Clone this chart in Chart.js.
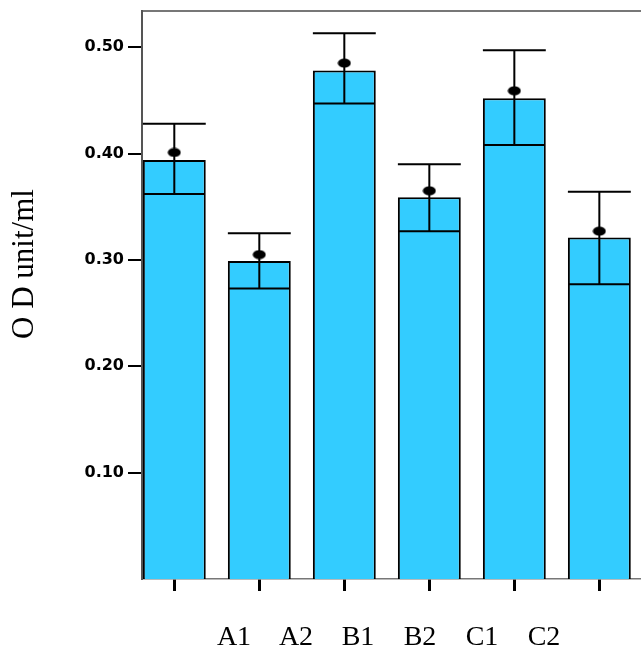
<!DOCTYPE html>
<html>
<head>
<meta charset="utf-8">
<script src="https://cdn.jsdelivr.net/npm/chart.js@4.4.1/dist/chart.umd.min.js"></script>
<style>
    html, body { margin: 0; padding: 0; background: #fff; }
    #wrap { width: 641px; height: 654px; }
</style>
</head>
<body>
<div id="wrap"><canvas id="chart" width="641" height="654"></canvas></div>
<script>
/* ------------------------------- Data -------------------------------*/

const GROUPS = ["A1", "A2", "B1", "B2", "C1", "C2"];
const BAR_VALUES = [0.394, 0.299, 0.478, 0.359, 0.452, 0.321];     // верх стовпця
const ERR_LOW = [0.362, 0.273, 0.447, 0.327, 0.408, 0.277];        // нижня межа похибки (лінія в стовпці)
const ERR_HIGH = [0.428, 0.325, 0.513, 0.390, 0.497, 0.364];       // верхня межа похибки
const MEANS = [0.401, 0.305, 0.485, 0.365, 0.459, 0.327];          // чорна точка
const Y_TICKS = [0.1, 0.2, 0.3, 0.4, 0.5];
const Y_TITLE = "O D unit/ml";

/* ------------------------------- Helpers -------------------------------*/

function makeDot() {                                    // чорна "клякса" над стовпцем
    var c = document.createElement("canvas");
    c.width = 14;
    c.height = 10;
    var g = c.getContext("2d");
    g.fillStyle = "#000";
    g.beginPath();
    g.ellipse(7, 5, 6.5, 4.5, 0, 0, Math.PI * 2);
    g.fill();
    return c;
}

function fixedTicks(values) {
    return function (scale) {
        scale.ticks = values.map(v => ({ value: v }));
    };
}

function noPad(width, height) {                        // прибрати авто-відступи осі
    return function (scale) {
        scale.paddingTop = 0;
        scale.paddingBottom = 0;
        scale.paddingLeft = 0;
        scale.paddingRight = 0;
        if (width != null) scale.width = width;
        if (height != null) scale.height = height;
    };
}

const errorBars = {
    id: "errorBars",
    afterDatasetsDraw(chart) {
        const ctx = chart.ctx;
        const y = chart.scales.y;
        const bars = chart.getDatasetMeta(0).data;

        ctx.save();
        ctx.strokeStyle = "#000";
        ctx.lineWidth = 2;
        bars.forEach(function (bar, i) {
            var half = bar.width / 2;
            var yLo = y.getPixelForValue(ERR_LOW[i]);
            var yHi = y.getPixelForValue(ERR_HIGH[i]);
            ctx.beginPath();
            ctx.moveTo(bar.x, yLo);
            ctx.lineTo(bar.x, yHi);
            ctx.moveTo(bar.x - half, yHi);
            ctx.lineTo(bar.x + half, yHi);
            ctx.moveTo(bar.x - half + 1, yLo);
            ctx.lineTo(bar.x + half - 1, yLo);
            ctx.stroke();
        });
        ctx.restore();
    }
};

/* ------------------------------- Chart -------------------------------*/

function drawChart() {
    var ctx = document.getElementById("chart").getContext("2d");

    new Chart(ctx, {
        type: "bar",
        data: {
            datasets: [{
                data: BAR_VALUES.map((v, i) => ({ x: i, y: v })),
                backgroundColor: "#33ccff",
                borderColor: "#000",
                borderWidth: 2,
                barPercentage: 0.74,
                categoryPercentage: 1,
                xAxisID: "x",
                yAxisID: "y"
            }, {
                type: "scatter",
                data: MEANS.map((v, i) => ({ x: i, y: v })),
                pointStyle: makeDot(),
                xAxisID: "x",
                yAxisID: "y"
            }]
        },
        options: {
            responsive: false,
            animation: false,
            devicePixelRatio: 1,
            layout: { autoPadding: false, padding: { top: 11, left: 0, right: 0, bottom: 0 } },
            plugins: {
                legend: { display: false },
                tooltip: { enabled: false }
            },
            scales: {
                x: {
                    type: "linear",
                    position: "bottom",
                    weight: 0,
                    min: -0.38,
                    max: 5.49,
                    offset: false,
                    afterBuildTicks: fixedTicks([0, 1, 2, 3, 4, 5]),
                    afterFit: noPad(null, 12),
                    ticks: { display: false },
                    grid: {
                        offset: false,
                        drawOnChartArea: false,
                        tickLength: 12,
                        color: "#000",
                        lineWidth: 3
                    },
                    border: { color: "#777", width: 1.5 }
                },
                xl: {                                        // підписи груп (зсунуті відносно стовпців)
                    type: "linear",
                    position: "bottom",
                    weight: 1,
                    min: -1.484,
                    max: 6.565,
                    offset: false,
                    afterBuildTicks: fixedTicks([0, 1, 2, 3, 4, 5]),
                    afterFit: noPad(null, 63),
                    ticks: {
                        autoSkip: false,
                        maxRotation: 0,
                        padding: 30,
                        color: "#000",
                        font: { family: "Liberation Serif", size: 28 },
                        callback: v => GROUPS[v]
                    },
                    grid: { display: false, drawTicks: false, offset: false },
                    border: { display: false }
                },
                xt: {                                        // верхня рамка
                    type: "linear",
                    position: "top",
                    min: 0,
                    max: 1,
                    offset: false,
                    afterFit: noPad(null, 0),
                    ticks: { display: false },
                    grid: { display: false, drawTicks: false, offset: false },
                    border: { color: "#777", width: 2 }
                },
                y: {
                    position: "left",
                    min: 0,
                    max: 0.534,
                    afterBuildTicks: fixedTicks(Y_TICKS),
                    afterFit: noPad(142, null),
                    ticks: {
                        padding: 4,
                        color: "#000",
                        font: { family: "DejaVu Sans", size: 16, weight: "bold" },
                        callback: v => v.toFixed(2)
                    },
                    grid: {
                        drawOnChartArea: false,
                        tickLength: 14,
                        color: "#000",
                        lineWidth: 2
                    },
                    border: { color: "#555", width: 2 },
                    title: {
                        display: true,
                        text: "        " + Y_TITLE,
                        color: "#000",
                        padding: { top: 6, bottom: 0 },
                        font: { family: "Liberation Serif", size: 31 }
                    }
                }
            }
        },
        plugins: [errorBars]
    });
}

drawChart();
</script>
</body>
</html>
